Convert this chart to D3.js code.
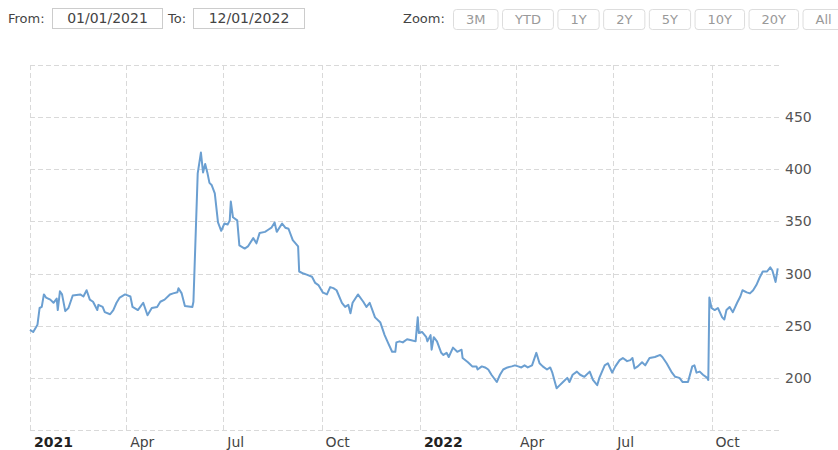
<!DOCTYPE html>
<html><head><meta charset="utf-8">
<script src="https://cdn.jsdelivr.net/npm/d3@7"></script>
<style>body{margin:0;background:#fff;}svg{display:block;}</style>
</head><body>
<svg id="c" width="838" height="450"></svg>
<script>
const dates = ["2021-01-01","2021-01-04","2021-01-08","2021-01-10","2021-01-12","2021-01-14","2021-01-16","2021-01-20","2021-01-23","2021-01-26","2021-01-27","2021-01-29","2021-01-31","2021-02-03","2021-02-06","2021-02-10","2021-02-17","2021-02-20","2021-02-23","2021-02-26","2021-03-01","2021-03-05","2021-03-06","2021-03-10","2021-03-12","2021-03-17","2021-03-20","2021-03-23","2021-03-26","2021-03-31","2021-04-05","2021-04-07","2021-04-12","2021-04-17","2021-04-21","2021-04-25","2021-04-30","2021-05-03","2021-05-07","2021-05-12","2021-05-15","2021-05-19","2021-05-20","2021-05-23","2021-05-26","2021-06-02","2021-06-03","2021-06-07","2021-06-10","2021-06-12","2021-06-14","2021-06-16","2021-06-18","2021-06-20","2021-06-23","2021-06-26","2021-06-29","2021-07-02","2021-07-05","2021-07-07","2021-07-08","2021-07-10","2021-07-14","2021-07-16","2021-07-21","2021-07-24","2021-07-29","2021-08-01","2021-08-04","2021-08-09","2021-08-12","2021-08-15","2021-08-18","2021-08-20","2021-08-25","2021-08-28","2021-08-31","2021-09-04","2021-09-09","2021-09-10","2021-09-14","2021-09-17","2021-09-22","2021-09-25","2021-09-28","2021-10-02","2021-10-06","2021-10-09","2021-10-12","2021-10-15","2021-10-20","2021-10-23","2021-10-26","2021-10-28","2021-10-30","2021-11-04","2021-11-09","2021-11-12","2021-11-15","2021-11-20","2021-11-25","2021-11-29","2021-12-02","2021-12-06","2021-12-09","2021-12-10","2021-12-13","2021-12-16","2021-12-20","2021-12-24","2021-12-28","2021-12-30","2021-12-31","2022-01-03","2022-01-07","2022-01-08","2022-01-11","2022-01-12","2022-01-14","2022-01-17","2022-01-21","2022-01-23","2022-01-26","2022-01-28","2022-02-01","2022-02-05","2022-02-09","2022-02-10","2022-02-15","2022-02-19","2022-02-23","2022-02-24","2022-02-28","2022-03-03","2022-03-06","2022-03-09","2022-03-14","2022-03-17","2022-03-20","2022-03-24","2022-03-28","2022-03-31","2022-04-03","2022-04-06","2022-04-09","2022-04-12","2022-04-16","2022-04-20","2022-04-23","2022-04-26","2022-04-30","2022-05-03","2022-05-05","2022-05-09","2022-05-12","2022-05-15","2022-05-19","2022-05-21","2022-05-24","2022-05-28","2022-05-31","2022-06-04","2022-06-09","2022-06-12","2022-06-16","2022-06-18","2022-06-23","2022-06-26","2022-06-30","2022-07-03","2022-07-07","2022-07-10","2022-07-14","2022-07-17","2022-07-19","2022-07-21","2022-07-24","2022-07-28","2022-07-31","2022-08-04","2022-08-09","2022-08-14","2022-08-16","2022-08-20","2022-08-25","2022-08-28","2022-09-01","2022-09-04","2022-09-09","2022-09-13","2022-09-15","2022-09-17","2022-09-20","2022-09-23","2022-09-27","2022-09-28","2022-09-29","2022-10-01","2022-10-04","2022-10-07","2022-10-11","2022-10-13","2022-10-15","2022-10-18","2022-10-21","2022-10-25","2022-10-28","2022-10-30","2022-11-03","2022-11-06","2022-11-09","2022-11-12","2022-11-15","2022-11-18","2022-11-22","2022-11-25","2022-11-27","2022-11-30","2022-12-02"];
const values = [246,244,251,267,268,280,277,275,272,276,265,283,280,264,267,279,280,278,284,275,273,265,270,268,263,261,265,272,277,280,278,268,265,272,260,267,268,273,275,280,281,282,286,281,269,268,273,396,416,397,405,397,387,385,377,349,341,348,347,351,369,354,351,327,324,326,334,329,339,340,342,344,349,340,348,344,343,332,326,302,300,299,297,291,289,282,280,287,286,284,272,268,270,262,272,280,273,268,272,258,253,241,234,225,225,234,235,234,237,236,235,258,243,244,239,235,241,227,239,235,224,222,224,220,229,225,227,219,215,211,211,208,211,210,208,203,196,203,208,210,211,212,211,210,212,210,212,224,214,211,208,210,205,190,193,196,200,196,203,206,203,201,206,198,193,200,212,214,205,211,217,219,216,217,219,209,211,215,212,219,220,222,220,214,205,201,200,196,196,211,212,205,206,203,200,198,277,267,265,267,258,256,265,268,263,272,278,284,282,281,284,289,296,302,302,306,303,292,305];
const yTickValues = [200,250,300,350,400,450];
const yGridValues = [150,200,250,300,350,400,450,500];
const xTickDates = ["2021-01-01","2021-04-01","2021-07-01","2021-10-01","2022-01-01","2022-04-01","2022-07-01","2022-10-01"];
const xTickLabels = ["2021","Apr","Jul","Oct","2022","Apr","Jul","Oct"];
const xTickBold = [true,false,false,false,true,false,false,false];
const zoomButtons = ["3M","YTD","1Y","2Y","5Y","10Y","20Y","All"];
const fromDate = "01/01/2021";
const toDate = "12/01/2022";

const parse = d3.timeParse("%Y-%m-%d");
const data = dates.map((d,i)=>({date:parse(d), value:values[i]}));

const svg = d3.select("#c");
const FONT = "'DejaVu Sans', sans-serif";

const x = d3.scaleTime().domain([parse("2021-01-01"), parse("2022-12-06")]).range([30, 782]);
const y = d3.scaleLinear().domain([150, 500]).range([430, 65]);

// horizontal grid
svg.append("g").selectAll("line").data(yGridValues).join("line")
  .attr("x1", 30).attr("x2", 782)
  .attr("y1", d=>Math.round(y(d))+0.5).attr("y2", d=>Math.round(y(d))+0.5)
  .attr("stroke", "#d9d9d9").attr("stroke-width", 1).attr("stroke-dasharray", "5,3");

// vertical grid
svg.append("g").selectAll("line").data(xTickDates).join("line")
  .attr("x1", d=>Math.round(x(parse(d)))+0.5).attr("x2", d=>Math.round(x(parse(d)))+0.5)
  .attr("y1", 65).attr("y2", 430)
  .attr("stroke", "#d9d9d9").attr("stroke-width", 1).attr("stroke-dasharray", "5,3");

// line
const line = d3.line().x(d=>x(d.date)).y(d=>y(d.value));
svg.append("path").datum(data).attr("d", line)
  .attr("fill", "none").attr("stroke", "#6b9fd1").attr("stroke-width", 2)
  .attr("stroke-linejoin", "round");

// y labels
svg.append("g").selectAll("text").data(yTickValues).join("text")
  .attr("x", 785).attr("y", d=>y(d)).attr("dy", "0.36em")
  .attr("font-family", FONT).attr("font-size", 14).attr("fill", "#555")
  .text(d=>d);

// x labels
svg.append("g").selectAll("text").data(xTickDates).join("text")
  .attr("x", d=>x(parse(d))+4).attr("y", 447)
  .attr("font-family", FONT).attr("font-size", 14)
  .attr("font-weight", (d,i)=>xTickBold[i]?"bold":"normal")
  .attr("fill", (d,i)=>xTickBold[i]?"#222":"#444")
  .text((d,i)=>xTickLabels[i]);

// top controls
const ctrl = svg.append("g");
ctrl.append("text").attr("x", 8).attr("y", 23).attr("font-family", FONT).attr("font-size", 13).attr("fill", "#444").text("From:");
ctrl.append("rect").attr("x", 52.5).attr("y", 8.5).attr("width", 110).attr("height", 20).attr("fill", "#fff").attr("stroke", "#ccc");
ctrl.append("text").attr("x", 107.5).attr("y", 23).attr("text-anchor", "middle").attr("font-family", FONT).attr("font-size", 14).attr("fill", "#444").text(fromDate);
ctrl.append("text").attr("x", 168).attr("y", 23).attr("font-family", FONT).attr("font-size", 13).attr("fill", "#444").text("To:");
ctrl.append("rect").attr("x", 193.5).attr("y", 8.5).attr("width", 111).attr("height", 20).attr("fill", "#fff").attr("stroke", "#ccc");
ctrl.append("text").attr("x", 249).attr("y", 23).attr("text-anchor", "middle").attr("font-family", FONT).attr("font-size", 14).attr("fill", "#444").text(toDate);
ctrl.append("text").attr("x", 403).attr("y", 23).attr("font-family", FONT).attr("font-size", 13).attr("fill", "#444").text("Zoom:");

let bx = 453;
zoomButtons.forEach(label=>{
  const g = ctrl.append("g");
  const t = g.append("text").attr("y", 24).attr("font-family", FONT).attr("font-size", 13).attr("fill", "#999").text(label);
  const w = t.node().getComputedTextLength() + 25;
  g.insert("rect", "text").attr("x", bx+0.5).attr("y", 9.5).attr("width", w).attr("height", 20).attr("rx", 3)
    .attr("fill", "#fff").attr("stroke", "#ddd");
  t.attr("x", bx + w/2 + 0.5).attr("text-anchor", "middle");
  bx += w + 4.5;
});
</script>
</body></html>
